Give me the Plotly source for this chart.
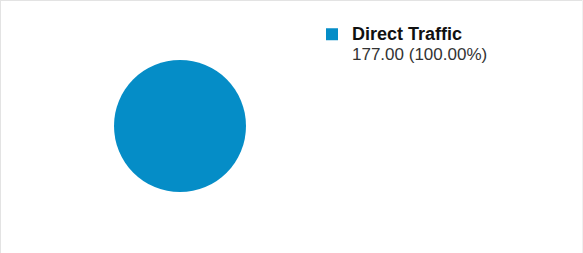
import plotly.graph_objects as go

labels = ["Direct Traffic"]
values = [177.00]
colors = ["#058DC7"]

W, H = 583, 253
total = sum(values)
legend_labels = [
    f"<span style='font-size:18px;color:#111'><b>{l}</b></span><br>"
    f"<span style='font-size:17px'>{v:.2f} ({v/total*100:.2f}%)</span>"
    for l, v in zip(labels, values)
]

cx, cy, r = 180, 126, 66
border = dict(color="#e3e3e3", width=2)
fig = go.Figure(go.Pie(
    labels=legend_labels,
    values=values,
    marker=dict(colors=colors, line=dict(width=0)),
    textinfo="none",
    sort=False,
    domain=dict(x=[(cx - r) / W, (cx + r) / W], y=[1 - (cy + r) / H, 1 - (cy - r) / H]),
))
fig.update_layout(
    width=W, height=H,
    margin=dict(l=0, r=0, t=0, b=0),
    paper_bgcolor="white",
    font=dict(family="Liberation Sans, Arial", size=15, color="#333"),
    showlegend=True,
    legend=dict(x=312 / W, y=1 - 18 / H, xanchor="left", yanchor="top",
                valign="top", itemsizing="constant",
                font=dict(size=15, color="#333"), bgcolor="rgba(0,0,0,0)"),
    shapes=[
        dict(type="line", xref="paper", yref="paper", x0=0, x1=1, y0=1, y1=1, line=border, layer="above"),
        dict(type="line", xref="paper", yref="paper", x0=0, x1=0, y0=0, y1=1, line=border, layer="above"),
        dict(type="line", xref="paper", yref="paper", x0=1, x1=1, y0=0, y1=1,
             line=dict(color="#f0f0f0", width=2), layer="above"),
    ],
)
fig.write_html("out.html", config={"displayModeBar": False},
               post_script="document.body.style.margin='0';")
